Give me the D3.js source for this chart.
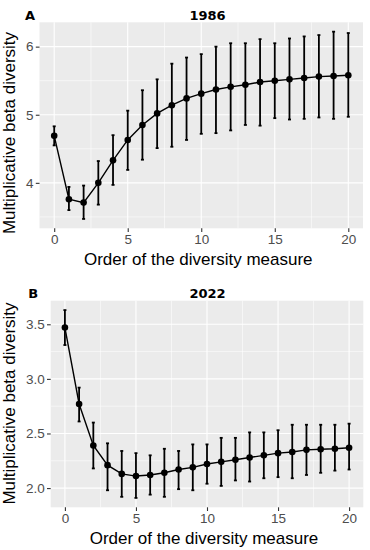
<!DOCTYPE html>
<html>
<head>
<meta charset="utf-8">
<script src="https://cdn.jsdelivr.net/npm/d3@7"></script>
<style>
  body { margin: 0; background: #fff; }
  svg { display: block; }
</style>
</head>
<body>
<div id="chart"></div>
<script>
const order = d3.range(0, 21);

// panel A, 1986
const mean1986 = [4.69, 3.76, 3.71, 4.00, 4.33, 4.63, 4.85, 5.02, 5.14, 5.24, 5.31,
                  5.37, 5.41, 5.44, 5.48, 5.50, 5.52, 5.54, 5.56, 5.57, 5.58];
const upper1986 = [4.83, 3.94, 3.96, 4.32, 4.70, 5.06, 5.36, 5.52, 5.75, 5.84, 5.89,
                   6.00, 6.05, 6.05, 6.11, 6.05, 6.12, 6.15, 6.17, 6.22, 6.20];
const lower1986 = [4.55, 3.60, 3.47, 3.68, 3.97, 4.19, 4.34, 4.51, 4.53, 4.63, 4.72,
                   4.73, 4.77, 4.85, 4.84, 4.95, 4.93, 4.94, 4.96, 4.94, 4.97];

// panel B, 2022
const mean2022 = [3.47, 2.77, 2.39, 2.21, 2.13, 2.11, 2.12, 2.14, 2.17, 2.19, 2.22,
                  2.24, 2.26, 2.28, 2.30, 2.32, 2.33, 2.35, 2.355, 2.36, 2.37];
const upper2022 = [3.63, 2.92, 2.60, 2.41, 2.34, 2.32, 2.30, 2.36, 2.34, 2.40, 2.40,
                   2.46, 2.46, 2.51, 2.51, 2.53, 2.58, 2.58, 2.58, 2.58, 2.59];
const lower2022 = [3.31, 2.61, 2.18, 1.98, 1.92, 1.91, 1.94, 1.92, 1.99, 1.98, 2.04,
                   2.02, 2.07, 2.06, 2.09, 2.10, 2.09, 2.12, 2.14, 2.16, 2.17];

const xTicks = [0, 5, 10, 15, 20];
const yTicks1986 = [4, 5, 6];
const yTicks2022 = [2.0, 2.5, 3.0, 3.5];

const svg = d3.select("#chart").append("svg")
    .attr("width", 370)
    .attr("height", 550);

function drawPanel(opts) {
    const { tag, title, mean, upper, lower, yTicks, yFormat, box, yTitleCenter } = opts;

    const data = order.map((x, i) => ({ x, m: mean[i], hi: upper[i], lo: lower[i] }));

    const xScale = d3.scaleLinear().domain([-1, 21]).range([box.left, box.right]);

    // ggplot-style 5% expansion around the error bar range
    const lo = d3.min(lower), hi = d3.max(upper);
    const pad = (hi - lo) * 0.05;
    const yScale = d3.scaleLinear().domain([lo - pad, hi + pad]).range([box.bottom, box.top]);

    const g = svg.append("g");

    g.append("rect")
        .attr("x", box.left).attr("y", box.top)
        .attr("width", box.right - box.left)
        .attr("height", box.bottom - box.top)
        .attr("fill", "#ebebeb");

    // minor grid
    const xMinor = xTicks.slice(0, -1).map(d => d + 2.5);
    const step = yTicks[1] - yTicks[0];
    const yMinor = [yTicks[0] - step / 2].concat(yTicks.map(d => d + step / 2))
        .filter(d => d > yScale.domain()[0] && d < yScale.domain()[1]);

    g.selectAll(".xminor").data(xMinor).join("line")
        .attr("x1", d => xScale(d)).attr("x2", d => xScale(d))
        .attr("y1", box.top).attr("y2", box.bottom)
        .attr("stroke", "#fff").attr("stroke-width", 0.55);
    g.selectAll(".yminor").data(yMinor).join("line")
        .attr("x1", box.left).attr("x2", box.right)
        .attr("y1", d => yScale(d)).attr("y2", d => yScale(d))
        .attr("stroke", "#fff").attr("stroke-width", 0.55);

    // major grid
    g.selectAll(".xmajor").data(xTicks).join("line")
        .attr("x1", d => xScale(d)).attr("x2", d => xScale(d))
        .attr("y1", box.top).attr("y2", box.bottom)
        .attr("stroke", "#fff").attr("stroke-width", 1.1);
    g.selectAll(".ymajor").data(yTicks).join("line")
        .attr("x1", box.left).attr("x2", box.right)
        .attr("y1", d => yScale(d)).attr("y2", d => yScale(d))
        .attr("stroke", "#fff").attr("stroke-width", 1.1);

    // axes
    const xAxis = g.append("g")
        .attr("transform", `translate(0,${box.bottom})`)
        .call(d3.axisBottom(xScale).tickValues(xTicks).tickSize(3.7).tickPadding(2.5));
    const yAxis = g.append("g")
        .attr("transform", `translate(${box.left},0)`)
        .call(d3.axisLeft(yScale).tickValues(yTicks).tickFormat(yFormat).tickSize(3.7).tickPadding(2.3));

    [xAxis, yAxis].forEach(a => {
        a.select(".domain").remove();
        a.selectAll(".tick line").attr("stroke", "#333").attr("stroke-width", 1.1);
        a.selectAll(".tick text")
            .attr("fill", "#4d4d4d")
            .attr("font-family", "Liberation Sans, Arial, sans-serif")
            .attr("font-size", "13.5px");
    });

    // error bars
    const cap = 1.5;
    const bars = g.append("g").attr("stroke", "#000").attr("stroke-width", 1.8);
    bars.selectAll(".bar").data(data).join("line")
        .attr("x1", d => xScale(d.x)).attr("x2", d => xScale(d.x))
        .attr("y1", d => yScale(d.lo)).attr("y2", d => yScale(d.hi));
    bars.selectAll(".capHi").data(data).join("line")
        .attr("x1", d => xScale(d.x) - cap).attr("x2", d => xScale(d.x) + cap)
        .attr("y1", d => yScale(d.hi)).attr("y2", d => yScale(d.hi));
    bars.selectAll(".capLo").data(data).join("line")
        .attr("x1", d => xScale(d.x) - cap).attr("x2", d => xScale(d.x) + cap)
        .attr("y1", d => yScale(d.lo)).attr("y2", d => yScale(d.lo));

    const line = d3.line()
        .x(d => xScale(d.x))
        .y(d => yScale(d.m));

    g.append("path")
        .attr("d", line(data))
        .attr("fill", "none")
        .attr("stroke", "#000")
        .attr("stroke-width", 1.4);

    g.selectAll("circle").data(data).join("circle")
        .attr("cx", d => xScale(d.x))
        .attr("cy", d => yScale(d.m))
        .attr("r", 3.3)
        .attr("fill", "#000");

    // titles
    g.append("text")
        .attr("x", 207.5).attr("y", box.top - 2.3)
        .attr("text-anchor", "middle")
        .attr("font-family", "DejaVu Sans, sans-serif")
        .attr("font-weight", "bold")
        .attr("font-size", "13px")
        .text(title);

    g.append("text")
        .attr("x", opts.tagX).attr("y", box.top - 2.3)
        .attr("font-family", "DejaVu Sans, sans-serif")
        .attr("font-weight", "bold")
        .attr("font-size", "13px")
        .text(tag);

    g.append("text")
        .attr("x", (box.left + box.right) / 2 - 3)
        .attr("y", box.bottom + 36.5)
        .attr("text-anchor", "middle")
        .attr("font-family", "Liberation Sans, Arial, sans-serif")
        .attr("font-size", "17px")
        .attr("fill", "#000")
        .text("Order of the diversity measure");

    g.append("text")
        .attr("transform", `translate(14.5,${yTitleCenter}) rotate(-90)`)
        .attr("text-anchor", "middle")
        .attr("font-family", "Liberation Sans, Arial, sans-serif")
        .attr("font-size", "17px")
        .attr("fill", "#000")
        .text("Multiplicative beta diversity");
}

drawPanel({
    tag: "A", tagX: 25, title: "1986",
    mean: mean1986, upper: upper1986, lower: lower1986,
    yTicks: yTicks1986, yFormat: d3.format("d"),
    box: { left: 39.5, right: 363, top: 22.3, bottom: 228.3 },
    yTitleCenter: 133
});

drawPanel({
    tag: "B", tagX: 28.3, title: "2022",
    mean: mean2022, upper: upper2022, lower: lower2022,
    yTicks: yTicks2022, yFormat: d3.format(".1f"),
    box: { left: 50.7, right: 363.3, top: 300.7, bottom: 507.3 },
    yTitleCenter: 403.5
});
</script>
</body>
</html>
